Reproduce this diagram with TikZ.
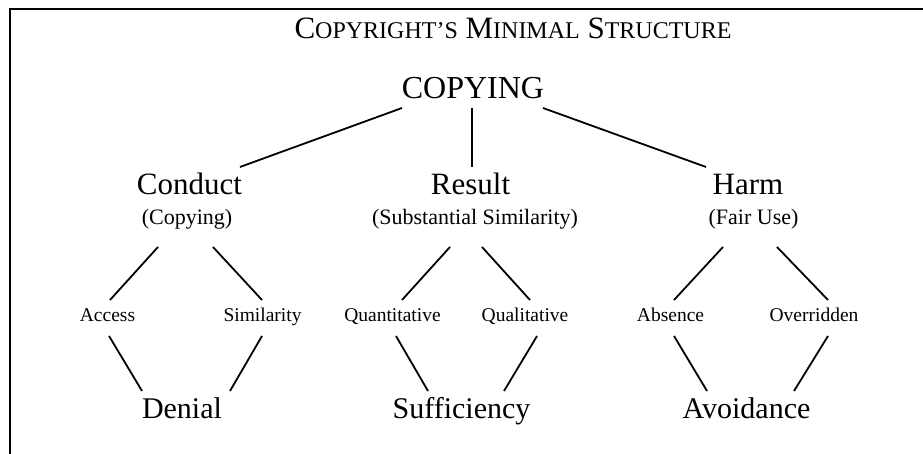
\documentclass[tikz,border=0pt]{standalone}
\usepackage{fontspec}
\setmainfont{Liberation Serif}
\usetikzlibrary{calc}
\newcommand\smcp[1]{{\fontsize{24}{28}\selectfont #1}}
\tikzset{
  lbl/.style={anchor=base, inner sep=0pt},
  big/.style={lbl, font=\fontsize{31}{36}\selectfont},
  sub/.style={lbl, font=\fontsize{22}{26}\selectfont},
  leaf/.style={lbl, font=\fontsize{19.5}{23}\selectfont},
  bottom/.style={lbl, font=\fontsize{30}{35}\selectfont},
  conn/.style={line width=1.8pt},
}
\begin{document}
\begin{tikzpicture}[x=1pt,y=1pt]
\useasboundingbox (0,0) rectangle (923,454);
\draw[line width=2pt, line join=miter] (923,445) -- (10,445) -- (10,0);
\node[lbl, font=\fontsize{31}{36}\selectfont] (title) at (513,415) {C\smcp{OPYRIGHT’S} M\smcp{INIMAL} S\smcp{TRUCTURE}};
\node[lbl, font=\fontsize{32}{38}\selectfont] (copying) at (473,355) {COPYING};
\node[big] (cond) at (189.5,259) {Conduct};
\node[big] (res) at (470.5,259) {Result};
\node[big] (harm) at (748,259) {Harm};
\node[sub] (condsub) at (187,229) {(Copying)};
\node[sub] (ressub) at (475,229) {(Substantial Similarity)};
\node[sub] (harmsub) at (753.5,229) {(Fair Use)};
\node[leaf] (access) at (107.5,132) {Access};
\node[leaf] (simil) at (262.5,132) {Similarity};
\node[leaf] (quant) at (392.5,132) {Quantitative};
\node[leaf] (qual) at (525,132) {Qualitative};
\node[leaf] (absence) at (670.5,132) {Absence};
\node[leaf] (overr) at (814,132) {Overridden};
\node[bottom] (denial) at (182,35) {Denial};
\node[bottom] (suff) at (461.5,35) {Sufficiency};
\node[bottom] (avoid) at (746.5,35) {Avoidance};
% top level
\draw[conn] ($(copying.base)+(-71,-9)$) -- ($(cond.base)+(50.5,28)$);
\draw[conn] ($(copying.base)+(-1,-9)$) -- ($(res.base)+(1.5,28)$);
\draw[conn] ($(copying.base)+(70,-9)$) -- ($(harm.base)+(-42,28)$);
% conduct
\draw[conn] ($(condsub.base)+(-29,-22)$) -- ($(access.base)+(2.5,22)$);
\draw[conn] ($(condsub.base)+(26,-22)$) -- ($(simil.base)+(-0.5,22)$);
\draw[conn] ($(access.base)+(1.5,-14)$) -- ($(denial.base)+(-40,28)$);
\draw[conn] ($(simil.base)+(-0.5,-14)$) -- ($(denial.base)+(48,28)$);
% result
\draw[conn] ($(ressub.base)+(-25,-22)$) -- ($(quant.base)+(9.5,22)$);
\draw[conn] ($(ressub.base)+(7,-22)$) -- ($(qual.base)+(5,22)$);
\draw[conn] ($(quant.base)+(3.5,-14)$) -- ($(suff.base)+(-33.5,28)$);
\draw[conn] ($(qual.base)+(12,-14)$) -- ($(suff.base)+(42.5,28)$);
% harm
\draw[conn] ($(harmsub.base)+(-30.5,-22)$) -- ($(absence.base)+(3.5,22)$);
\draw[conn] ($(harmsub.base)+(23.5,-22)$) -- ($(overr.base)+(14,22)$);
\draw[conn] ($(absence.base)+(3.5,-14)$) -- ($(avoid.base)+(-39.5,28)$);
\draw[conn] ($(overr.base)+(14,-14)$) -- ($(avoid.base)+(47.5,28)$);
\end{tikzpicture}
\end{document}
